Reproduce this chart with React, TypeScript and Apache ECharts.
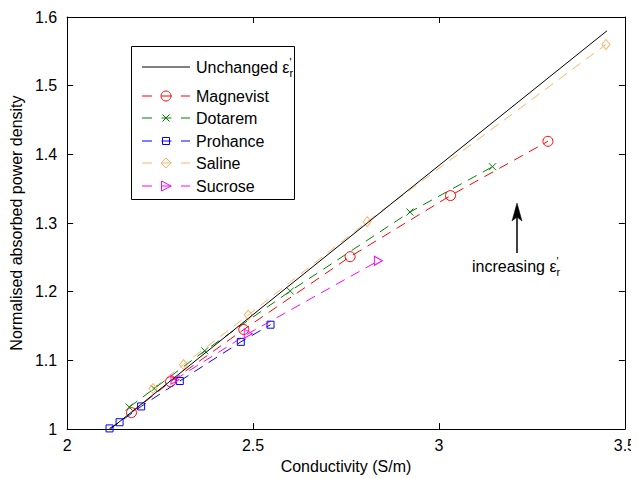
import React, { useEffect, useRef } from "react";
import * as echarts from "echarts";

const FONT = "'Liberation Sans', Arial, Helvetica, sans-serif";

const xTicks = [2, 2.5, 3, 3.5];
const yTicks = [1, 1.1, 1.2, 1.3, 1.4, 1.5, 1.6];

const unchangedX = [2.116, 3.452];
const unchangedY = [1.0, 1.58];

const magnevistX = [2.173, 2.278, 2.475, 2.761, 3.031, 3.293];
const magnevistY = [1.024, 1.069, 1.145, 1.251, 1.34, 1.419];

const dotaremX = [2.167, 2.234, 2.37, 2.6, 2.922, 3.144];
const dotaremY = [1.032, 1.059, 1.114, 1.201, 1.316, 1.382];

const prohanceX = [2.114, 2.141, 2.199, 2.303, 2.467, 2.547];
const prohanceY = [1.001, 1.01, 1.033, 1.07, 1.127, 1.152];

const salineX = [2.231, 2.313, 2.487, 2.807, 3.449];
const salineY = [1.059, 1.094, 1.166, 1.302, 1.56];

const sucroseX = [2.29, 2.487, 2.837];
const sucroseY = [1.072, 1.139, 1.245];

const RED = "#ff0000";
const GREEN = "#008000";
const BLUE = "#0000ff";
const ORANGE = "#ffb266";
const MAGENTA = "#ff00ff";

const zip = (xs: number[], ys: number[]) => xs.map((x, i) => [x, ys[i]]);

const dashSeries = (
  name: string,
  xs: number[],
  ys: number[],
  color: string,
  symbol: string,
  symbolSize: number | number[]
) => ({
  name,
  type: "line",
  data: zip(xs, ys),
  symbol,
  symbolSize,
  showSymbol: true,
  lineStyle: { color, width: 1, type: [10, 7] },
  itemStyle: { color: "rgba(0,0,0,0)", borderColor: color, borderWidth: 1 },
  emphasis: { disabled: true },
  z: 3,
});

const legendRows = [
  { name: "Magnevist", color: RED, y: 96, kind: "circle" },
  { name: "Dotarem", color: GREEN, y: 118, kind: "x" },
  { name: "Prohance", color: BLUE, y: 141, kind: "square" },
  { name: "Saline", color: ORANGE, y: 163, kind: "diamond" },
  { name: "Sucrose", color: MAGENTA, y: 186, kind: "triangle" },
];

const marker = (kind: string, cx: number, cy: number, color: string): any[] => {
  const st = { fill: "none", stroke: color, lineWidth: 1 };
  if (kind === "circle") return [{ type: "circle", shape: { cx, cy, r: 5 }, style: st }];
  if (kind === "x")
    return [
      { type: "line", shape: { x1: cx - 3.5, y1: cy - 3.5, x2: cx + 3.5, y2: cy + 3.5 }, style: st },
      { type: "line", shape: { x1: cx - 3.5, y1: cy + 3.5, x2: cx + 3.5, y2: cy - 3.5 }, style: st },
    ];
  if (kind === "square")
    return [{ type: "rect", shape: { x: cx - 3.5, y: cy - 3.5, width: 7, height: 7 }, style: st }];
  if (kind === "diamond")
    return [
      {
        type: "polygon",
        shape: { points: [[cx, cy - 5], [cx + 5, cy], [cx, cy + 5], [cx - 5, cy]] },
        style: st,
      },
    ];
  return [
    {
      type: "polygon",
      shape: { points: [[cx - 4.5, cy - 5], [cx + 5, cy], [cx - 4.5, cy + 5]] },
      style: st,
    },
  ];
};

const epsRich = {
  a: { fontSize: 16, fontFamily: FONT, fill: "#000", color: "#000", lineHeight: 22 },
  p: { fontSize: 11, fontFamily: FONT, color: "#000", verticalAlign: "top", lineHeight: 11, width: 0 },
  s: { fontSize: 11, fontFamily: FONT, color: "#000", verticalAlign: "bottom", lineHeight: 12 },
};

export default function App() {
  const ref = useRef<HTMLDivElement>(null);
  useEffect(() => {
    if (!ref.current) return;
    const chart = echarts.init(ref.current, null, { renderer: "svg" });

    const axisCommon = {
      type: "value",
      axisLine: { show: true, onZero: false, lineStyle: { color: "#000", width: 1 } },
      axisTick: { show: true, inside: true, length: 6, lineStyle: { color: "#000", width: 1 } },
      splitLine: { show: false },
    };

    const graphicEls: any[] = [
      {
        type: "rect",
        shape: { x: 131.5, y: 46.5, width: 163, height: 153 },
        style: { fill: "#fff", stroke: "#000", lineWidth: 1 },
        z: 10,
      },
      {
        type: "line",
        shape: { x1: 142, y1: 67, x2: 190, y2: 67 },
        style: { stroke: "#000", lineWidth: 1 },
        z: 11,
      },
      {
        type: "text",
        x: 196,
        y: 67,
        style: {
          text: "{a|Unchanged ε}{p|'}{s|r}",
          rich: epsRich,
          verticalAlign: "middle",
          align: "left",
          fill: "#000",
          font: `16px ${FONT}`,
        },
        z: 11,
      },
    ];
    legendRows.forEach((r) => {
      graphicEls.push({
        type: "line",
        shape: { x1: 142, y1: r.y, x2: 190, y2: r.y },
        style: { stroke: r.color, lineWidth: 1, lineDash: [10, 9.5] },
        z: 11,
      });
      marker(r.kind, 166, r.y, r.color).forEach((m) => graphicEls.push({ ...m, z: 11 }));
      graphicEls.push({
        type: "text",
        x: 196,
        y: r.y,
        style: {
          text: r.name,
          fill: "#000",
          font: `16px ${FONT}`,
          verticalAlign: "middle",
          align: "left",
        },
        z: 11,
      });
    });
    // annotation
    graphicEls.push(
      {
        type: "line",
        shape: { x1: 517, y1: 253, x2: 517, y2: 214 },
        style: { stroke: "#000", lineWidth: 1.5 },
        z: 11,
      },
      {
        type: "polygon",
        shape: { points: [[517, 203], [522, 221], [517, 217], [512, 221]] },
        style: { fill: "#000", stroke: "#000", lineWidth: 0.5 },
        z: 11,
      },
      {
        type: "text",
        x: 472,
        y: 266,
        style: {
          text: "{a|increasing ε}{p|'}{s|r}",
          rich: epsRich,
          verticalAlign: "middle",
          align: "left",
          fill: "#000",
          font: `16px ${FONT}`,
        },
        z: 11,
      }
    );

    const option: any = {
      animation: false,
      backgroundColor: "#fff",
      textStyle: { fontFamily: FONT },
      grid: { left: 61, right: 14, top: 17, bottom: 43, containLabel: false },
      xAxis: [
        {
          ...axisCommon,
          position: "bottom",
          min: xTicks[0],
          max: xTicks[xTicks.length - 1],
          interval: 0.5,
          name: "Conductivity (S/m)",
          nameLocation: "middle",
          nameGap: 24,
          nameTextStyle: { fontSize: 16, color: "#000", fontFamily: FONT },
          axisLabel: {
            fontSize: 16,
            color: "#000",
            margin: 8,
            fontFamily: FONT,
            formatter: (v: number) => String(Math.round(v * 10) / 10),
          },
        },
        {
          ...axisCommon,
          position: "top",
          min: xTicks[0],
          max: xTicks[xTicks.length - 1],
          interval: 0.5,
          axisLabel: { show: false },
        },
      ],
      yAxis: [
        {
          ...axisCommon,
          position: "left",
          min: yTicks[0],
          max: yTicks[yTicks.length - 1],
          interval: 0.1,
          name: "Normalised absorbed power density",
          nameLocation: "middle",
          nameGap: 37,
          nameTextStyle: { fontSize: 16, color: "#000", fontFamily: FONT },
          axisLabel: {
            fontSize: 16,
            color: "#000",
            margin: 10,
            fontFamily: FONT,
            formatter: (v: number) => String(Math.round(v * 10) / 10),
          },
        },
        {
          ...axisCommon,
          position: "right",
          min: yTicks[0],
          max: yTicks[yTicks.length - 1],
          interval: 0.1,
          axisLabel: { show: false },
        },
      ],
      series: [
        {
          name: "Unchanged",
          type: "line",
          data: zip(unchangedX, unchangedY),
          symbol: "none",
          lineStyle: { color: "#000", width: 1 },
          emphasis: { disabled: true },
          z: 4,
        },
        dashSeries("Magnevist", magnevistX, magnevistY, RED, "circle", 10),
        dashSeries("Dotarem", dotaremX, dotaremY, GREEN, "path://M0,0L10,10M10,0L0,10", 7),
        dashSeries("Prohance", prohanceX, prohanceY, BLUE, "rect", 7),
        dashSeries("Saline", salineX, salineY, ORANGE, "diamond", [8, 10]),
        dashSeries("Sucrose", sucroseX, sucroseY, MAGENTA, "path://M0,0L10,5L0,10Z", [8, 9]),
      ],
      graphic: graphicEls,
    };
    chart.setOption(option);
    return () => chart.dispose();
  }, []);
  return <div ref={ref} style={{ width: 639, height: 479, marginLeft: -8, marginTop: -8 }} />;
}
